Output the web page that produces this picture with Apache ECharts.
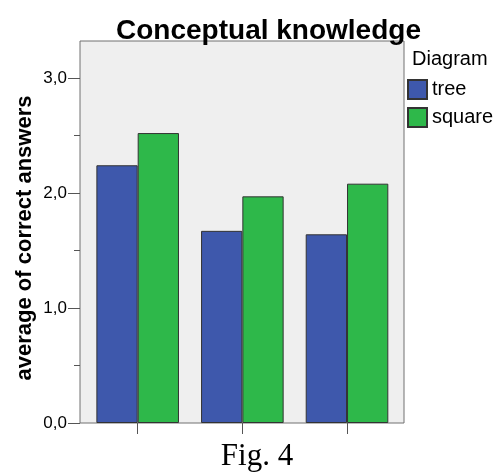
<!DOCTYPE html>
<html>
<head>
<meta charset="utf-8">
<script src="https://cdn.jsdelivr.net/npm/echarts@6/dist/echarts.min.js"></script>
<style>
html,body{margin:0;padding:0;background:#fff;}
#chart{width:497px;height:474px;}
</style>
</head>
<body>
<div id="chart"></div>
<script>
// Data
const categories = ['1', '2', '3'];
const seriesNames = ['tree', 'square'];
const treeValues = [2.24, 1.67, 1.64];
const squareValues = [2.52, 1.97, 2.08];
const majorTicks = [0, 1, 2, 3];
const minorTicks = [0.5, 1.5, 2.5];
const titleText = 'Conceptual knowledge';
const legendTitle = 'Diagram';
const yName = 'average of correct answers';
const caption = 'Fig. 4';

const yMax = 3.32;
const fmt = v => v.toFixed(1).replace('.', ',');

const chart = echarts.init(document.getElementById('chart'), null, {renderer: 'canvas'});
chart.setOption({
  animation: false,
  backgroundColor: '#ffffff',
  textStyle: {fontFamily: 'Liberation Sans, Arial, sans-serif'},
  grid: [
    {left: 80, top: 41, width: 324, height: 382, show: true, backgroundColor: '#efefef', borderColor: '#707070', borderWidth: 1},
    {left: 85.35, top: 41, width: 314, height: 382}
  ],
  graphic: [
    {type: 'text', x: 268.5, y: 17, style: {text: titleText, align: 'center', verticalAlign: 'top', font: 'bold 28px "Liberation Sans", Arial, sans-serif', fill: '#000'}},
    {type: 'text', x: 412, y: 49, style: {text: legendTitle, align: 'left', verticalAlign: 'top', font: '20px "Liberation Sans", Arial, sans-serif', fill: '#000'}},
    {type: 'text', x: 25, y: 238, rotation: Math.PI / 2, style: {text: yName, align: 'center', verticalAlign: 'middle', font: 'bold 22px "Liberation Sans", Arial, sans-serif', fill: '#000'}},
    {type: 'text', x: 257, y: 441, style: {text: caption, align: 'center', verticalAlign: 'top', font: '31px "Liberation Serif", "Times New Roman", serif', fill: '#000'}}
  ],
  legend: {
    orient: 'vertical', left: 407, top: 79, padding: 0,
    itemWidth: 19, itemHeight: 19, itemGap: 7,
    icon: 'rect',
    data: seriesNames,
    textStyle: {fontSize: 20, color: '#000'}
  },
  xAxis: [
    {gridIndex: 0, type: 'value', min: 0, max: 1, show: false},
    {gridIndex: 1, type: 'category', data: categories,
     axisLine: {show: false},
     axisTick: {show: true, alignWithLabel: true, length: 11, lineStyle: {color: '#555', width: 1}},
     axisLabel: {show: false}}
  ],
  yAxis: [
    {gridIndex: 0, type: 'value', min: 0, max: yMax, position: 'left',
     axisLine: {show: false}, splitLine: {show: false},
     axisTick: {show: true, customValues: majorTicks, length: 12, lineStyle: {color: '#555'}},
     axisLabel: {show: true, customValues: majorTicks, formatter: fmt, fontSize: 17, color: '#000', margin: 13}},
    {gridIndex: 0, type: 'value', min: 0, max: yMax, position: 'left', offset: 0,
     axisLine: {show: false}, splitLine: {show: false},
     axisTick: {show: true, customValues: minorTicks, length: 6, lineStyle: {color: '#555'}},
     axisLabel: {show: false}},
    {gridIndex: 1, type: 'value', min: 0, max: yMax, show: false}
  ],
  series: [
    {name: seriesNames[0], type: 'bar', xAxisIndex: 1, yAxisIndex: 2, data: treeValues,
     barWidth: 41.3, barGap: '0%',
     itemStyle: {color: '#3e58ac', borderColor: '#333', borderWidth: 1}},
    {name: seriesNames[1], type: 'bar', xAxisIndex: 1, yAxisIndex: 2, data: squareValues,
     barWidth: 41.3, barGap: '0%',
     itemStyle: {color: '#2eb84a', borderColor: '#333', borderWidth: 1}}
  ]
});
</script>
</body>
</html>
